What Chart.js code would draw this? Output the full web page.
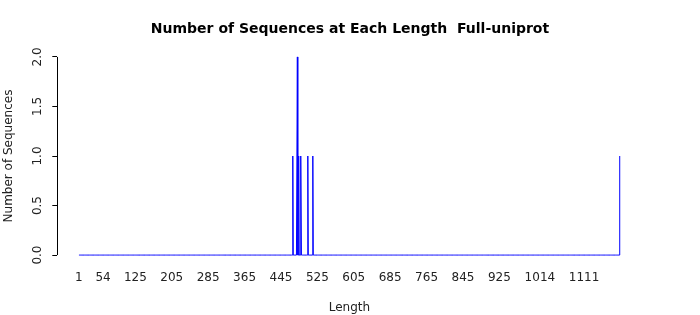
<!DOCTYPE html>
<html>
<head>
<meta charset="utf-8">
<script src="https://cdn.jsdelivr.net/npm/chart.js@4"></script>
<style>
  html, body { margin: 0; padding: 0; background: #fff; }
  #wrap { width: 700px; height: 315px; }
</style>
</head>
<body>
<div id="wrap"><canvas id="chartLen"></canvas></div>
<script>
// lengths that have sequences, and how many
var seqLengths = [471, 481, 484, 489, 504, 515, 1190];
var seqCounts  = [1,   2,   1,   1,   1,   1,   1];
var maxLength = 1190;
var xTickLabels = [1, 54, 125, 205, 285, 365, 445, 525, 605, 685, 765, 845, 925, 1014, 1111];
var yTickLabels = [0, 0.5, 1, 1.5, 2];

// one point per length, zero where nothing was found
var points = [];
for (var L = 1; L <= maxLength; L++) {
    var k = seqLengths.indexOf(L);
    points.push({ x: L, y: k >= 0 ? seqCounts[k] : 0 });
}

// R style range padding (4%)
var xPad = (maxLength - 1) * 0.04;
var yPad = 2 * 0.04;

var rAxis = {
    id: 'rAxis',
    afterDraw: function (chart) {
        var ctx = chart.ctx;
        var ys = chart.scales.y;
        var x0 = chart.chartArea.left;
        ctx.save();
        ctx.strokeStyle = '#000';
        ctx.lineWidth = 1;
        ctx.beginPath();
        ctx.moveTo(Math.round(x0) + 0.5, ys.getPixelForValue(0));
        ctx.lineTo(Math.round(x0) + 0.5, ys.getPixelForValue(2));
        ctx.stroke();
        ctx.fillStyle = '#222';
        ctx.font = '12px "DejaVu Sans"';
        ctx.textAlign = 'center';
        ctx.textBaseline = 'middle';
        yTickLabels.forEach(function (v) {
            ctx.save();
            ctx.translate(37.5, ys.getPixelForValue(v));
            ctx.rotate(-Math.PI / 2);
            ctx.fillText(v.toFixed(1), 0, 0);
            ctx.restore();
        });
        ctx.restore();
    }
};

var ctx = document.getElementById('chartLen');
var chart = new Chart(ctx, {
    type: 'line',
    data: {
        datasets: [{
            data: points,
            borderColor: '#0000ff',
            borderWidth: 1,
            pointRadius: 0,
            tension: 0,
            fill: false
        }]
    },
    options: {
        responsive: true,
        maintainAspectRatio: false,
        animation: false,
        layout: { padding: 0 },
        plugins: {
            legend: { display: false },
            tooltip: { enabled: false },
            title: {
                display: true,
                text: 'Number of Sequences at Each Length  Full-uniprot',
                color: '#000',
                font: { family: 'DejaVu Sans', size: 14, weight: 'bold' },
                padding: { top: 20.6, bottom: 11.6 }
            }
        },
        scales: {
            x: {
                type: 'linear',
                min: 1 - xPad,
                max: maxLength + xPad,
                afterBuildTicks: function (s) {
                    s.ticks = xTickLabels.map(function (v) { return { value: v }; });
                },
                afterFit: function (s) { s.height = 52; },
                border: { display: false },
                grid: { display: false, drawTicks: false },
                ticks: {
                    autoSkip: false,
                    maxRotation: 0,
                    padding: 8,
                    color: '#222',
                    font: { family: 'DejaVu Sans', size: 12 },
                    callback: function (v) { return String(v); }
                },
                title: {
                    display: true,
                    text: 'Length',
                    color: '#222',
                    font: { family: 'DejaVu Sans', size: 12 },
                    padding: { top: 0, bottom: 0 }
                }
            },
            y: {
                min: -yPad,
                max: 2 + yPad,
                afterBuildTicks: function (s) {
                    s.ticks = yTickLabels.map(function (v) { return { value: v }; });
                },
                afterFit: function (s) { s.width = 57.3; },
                border: { display: false },
                grid: { drawOnChartArea: false, drawTicks: true, tickLength: 5, color: '#000' },
                ticks: { display: false },
                title: {
                    display: true,
                    text: 'Number of Sequences',
                    color: '#222',
                    font: { family: 'DejaVu Sans', size: 12 },
                    padding: { top: 2, bottom: 0 }
                }
            },
            // empty right margin, keeps the title centred on the page
            yRight: {
                position: 'right',
                min: 0,
                max: 1,
                afterFit: function (s) { s.width = 58.4; },
                border: { display: false },
                grid: { display: false, drawTicks: false },
                ticks: { display: false }
            }
        }
    },
    plugins: [rAxis]
});
</script>
</body>
</html>
